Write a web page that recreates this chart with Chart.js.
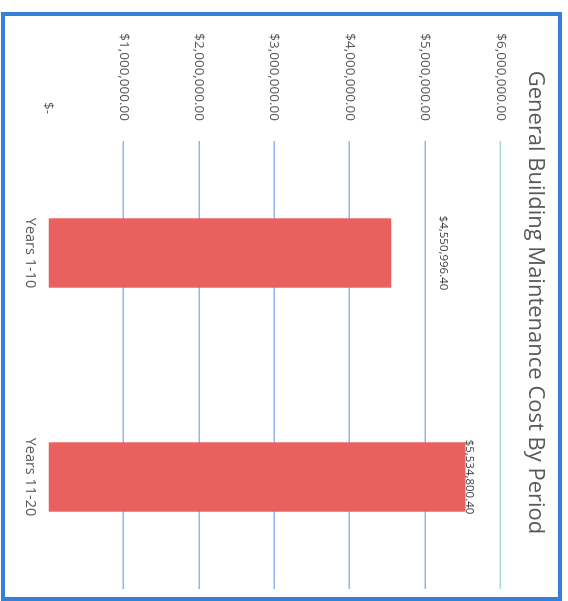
<!DOCTYPE html>
<html>
<head>
<meta charset="utf-8">
<script src="https://cdn.jsdelivr.net/npm/chart.js@4.4.1/dist/chart.umd.min.js"></script>
<style>
  html, body { margin: 0; padding: 0; background: #fff; }
  body { width: 568px; height: 601px; overflow: hidden; position: relative; }
  /* the chart is laid out sideways, then turned a quarter clockwise */
  #frame {
    position: absolute;
    left: 0;
    top: 0;
    width: 589px;
    height: 561px;
    box-sizing: border-box;
    border: 4px solid #3580d8;
    background: #fff;
    transform-origin: 0 0;
    transform: translate(562px, 12px) rotate(90deg);
  }
  #chart { display: block; }
</style>
</head>
<body>
<div id="frame">
  <canvas id="chart" width="581" height="553"></canvas>
</div>
<script>
const periods = ['Years 1-10', 'Years 11-20'];
const costs = [4550996.40, 5534800.40];
const costTicks = [0, 1000000, 2000000, 3000000, 4000000, 5000000, 6000000];

function money(v) {
  if (v === 0) return '$-  ';
  return '$' + v.toLocaleString('en-US', { minimumFractionDigits: 2, maximumFractionDigits: 2 });
}

// value labels above each bar (first one sits a bit higher)
const valueLabels = {
  id: 'valueLabels',
  afterDatasetsDraw(chart, args, opts) {
    const ctx = chart.ctx;
    const meta = chart.getDatasetMeta(0);
    ctx.save();
    ctx.font = '11.5px "Open Sans"';
    ctx.fillStyle = '#404040';
    ctx.textAlign = 'center';
    ctx.textBaseline = 'middle';
    meta.data.forEach((bar, i) => {
      ctx.fillText(money(costs[i]), bar.x, bar.y + opts.shift[i]);
    });
    ctx.restore();
  }
};

new Chart(document.getElementById('chart'), {
  type: 'bar',
  data: {
    labels: periods,
    datasets: [{
      data: costs,
      backgroundColor: '#e8615f',
      borderWidth: 0,
      barPercentage: 0.31,
      categoryPercentage: 1
    }]
  },
  options: {
    responsive: false,
    animation: false,
    layout: { padding: { left: 0, right: 8, top: 0, bottom: 0 } },
    plugins: {
      legend: { display: false },
      tooltip: { enabled: false },
      title: {
        display: true,
        text: 'General Building Maintenance Cost By Period',
        color: '#595959',
        font: { family: 'Open Sans', size: 22, weight: 'normal' },
        padding: { top: 10, bottom: 21 }
      },
      valueLabels: { shift: [-52, -4] }
    },
    scales: {
      x: {
        grid: { display: false, drawTicks: false },
        border: { display: false },
        ticks: {
          color: '#595959',
          font: { family: 'Open Sans', size: 14.5 },
          padding: 9
        },
        afterFit(scale) { scale.height = 43; }
      },
      y: {
        min: 0,
        max: 6000000,
        border: { display: false },
        grid: {
          drawTicks: false,
          lineWidth: 1.5,
          color(c) {
            if (c.tick.value === 0) return 'rgba(0,0,0,0)';
            if (c.tick.value === 6000000) return '#a8dcc8';
            return '#8db8e8';
          }
        },
        afterBuildTicks(scale) {
          scale.ticks = costTicks.map(v => ({ value: v }));
        },
        ticks: {
          color: '#595959',
          font: { family: 'Open Sans', size: 13.5 },
          padding: 20,
          callback: v => money(v)
        },
        afterFit(scale) { scale.width = 125; }
      }
    }
  },
  plugins: [valueLabels]
});
</script>
</body>
</html>
